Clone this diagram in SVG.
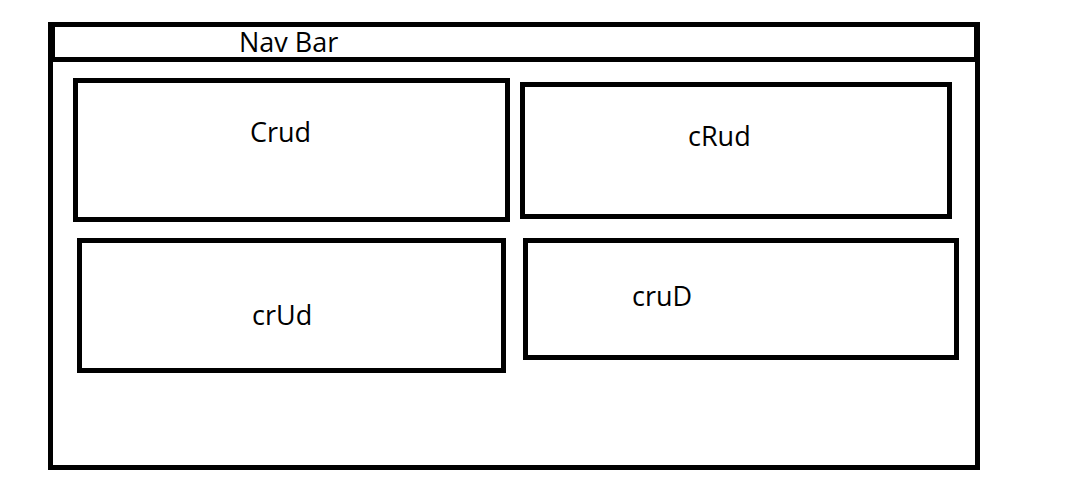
<svg xmlns="http://www.w3.org/2000/svg" width="1091" height="500" viewBox="0 0 1091 500">
<style>
.box{fill:none;stroke:#000;stroke-width:5}
.lbl{font-family:"Open Sans","Liberation Sans",sans-serif;font-size:27px;fill:#000}
</style>
<rect width="1091" height="500" fill="#fff"/>
<g id="frame">
<rect class="box" x="50.5" y="24.5" width="927" height="443"/>
</g>
<g id="navbar">
<rect class="box" x="52.5" y="24.5" width="924" height="35"/>
<text class="lbl" x="239" y="52">Nav Bar</text>
</g>
<g id="crud-create">
<rect class="box" x="75.5" y="80.5" width="432" height="139"/>
<text class="lbl" x="250" y="142">Crud</text>
</g>
<g id="crud-read">
<rect class="box" x="522.5" y="84.5" width="427" height="132"/>
<text class="lbl" x="688" y="146">cRud</text>
</g>
<g id="crud-update">
<rect class="box" x="79.5" y="240.5" width="424" height="130"/>
<text class="lbl" x="252" y="325">crUd</text>
</g>
<g id="crud-delete">
<rect class="box" x="525.5" y="240.5" width="431" height="117"/>
<text class="lbl" x="632" y="306">cruD</text>
</g>
<g id="connectors"></g>
</svg>
